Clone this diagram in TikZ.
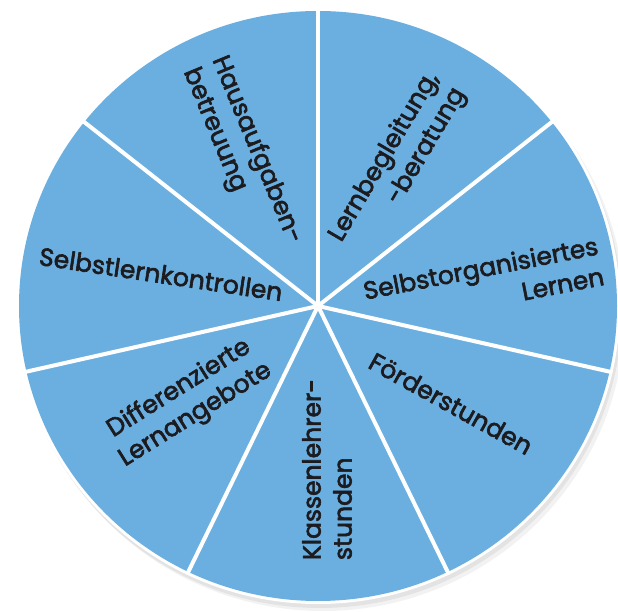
\documentclass[tikz,border=0pt]{standalone}
\usepackage{fontspec}
\setmainfont{Poppins}[FakeBold=2.5]
\definecolor{wheelblue}{RGB}{106,175,224}
\definecolor{labelink}{RGB}{28,28,32}

\begin{document}
\begin{tikzpicture}[x=1pt,y=1pt,line join=bevel,
  spoke/.style={white,line width=4pt},
  sector label/.style={text=labelink,font=\fontsize{25}{31}\selectfont,inner sep=0pt},
]
\useasboundingbox (0,0) rectangle (618,612);
\fill[white] (0,0) rectangle (618,612);
%%
\coordinate (hub) at (318,306);
% soft shadow and white ring
\fill[black,opacity=0.05] (323,299) ellipse [x radius=302,y radius=298];
\fill[black,opacity=0.06] (320,302) ellipse [x radius=302,y radius=298];
\fill[white] (hub) ellipse [x radius=302,y radius=298];
\fill[wheelblue] (hub) ellipse [x radius=299,y radius=295];
%
\coordinate (rim_0) at (318,604);
  \coordinate (rim_1) at (554.1,491.8);
  \coordinate (rim_2) at (612.4,239.7);
  \coordinate (rim_3) at (449.0,37.5);
  \coordinate (rim_4) at (187.0,37.5);
  \coordinate (rim_5) at (23.6,239.7);
  \coordinate (rim_6) at (81.9,491.8);
  \draw [spoke] (hub) -- (rim_0);
  \draw [spoke] (hub) -- (rim_1);
  \draw [spoke] (hub) -- (rim_2);
  \draw [spoke] (hub) -- (rim_3);
  \draw [spoke] (hub) -- (rim_4);
  \draw [spoke] (hub) -- (rim_5);
  \draw [spoke] (hub) -- (rim_6);
%
\node (hausaufgaben) at (242,456) [sector label,rotate=-67.5,align=left] {Hausaufgaben-\\betreuung};
  \node (lernbegleitung) at (398,447) [sector label,rotate=59.5,align=right] {Lernbegleitung,\\-beratung};
  \node (selbstorganisiert) at (483.5,329) [sector label,rotate=11,align=right] {Selbstorganisiertes\\Lernen};
  \node (foerderstunden) at (451,208.5) [sector label,rotate=-29] {Förderstunden};
  \node (klassenlehrer) at (327,142.5) [sector label,rotate=90,align=left] {Klassenlehrer-\\stunden};
  \node (differenziert) at (187.5,210) [sector label,rotate=32,align=center] {Differenzierte\\Lernangebote};
  \node (selbstlernkontrollen) at (161,338) [sector label,rotate=-8.5] {Selbstlernkontrollen};
%
\end{tikzpicture}
\end{document}
